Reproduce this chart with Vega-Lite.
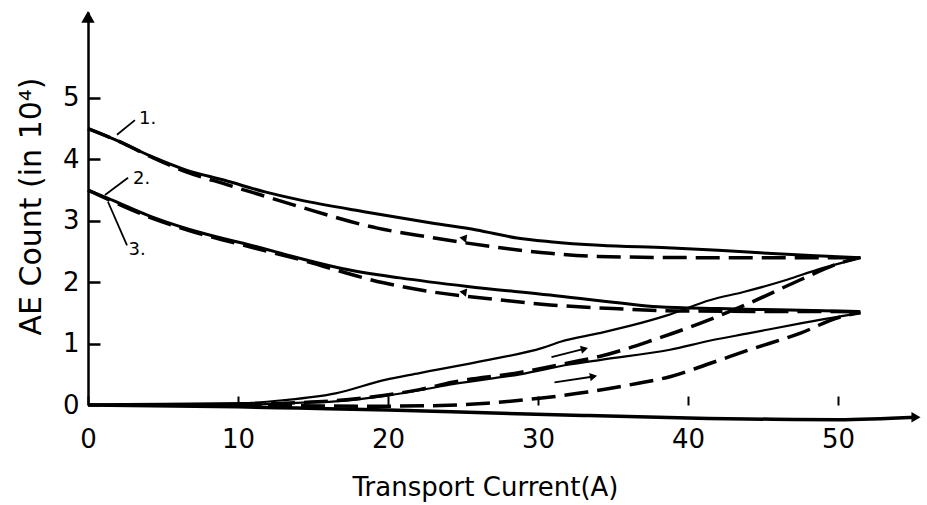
{
  "$schema": "https://vega.github.io/schema/vega-lite/v6.json",
  "width": 834,
  "height": 393,
  "autosize": "none",
  "padding": {"left": 88, "top": 12, "right": 5, "bottom": 100},
  "background": "white",
  "config": {"view": {"stroke": null}, "font": "DejaVu Sans"},
  "datasets": {
    "curves": [
      {"s": "s1d", "x": 0, "y": 4.5}, {"s": "s1d", "x": 1.8, "y": 4.32}, {"s": "s1d", "x": 4.3, "y": 4.04}, {"s": "s1d", "x": 6.5, "y": 3.83}, {"s": "s1d", "x": 9.1, "y": 3.66}, {"s": "s1d", "x": 11.8, "y": 3.47}, {"s": "s1d", "x": 14.1, "y": 3.34}, {"s": "s1d", "x": 18.6, "y": 3.14}, {"s": "s1d", "x": 23, "y": 2.96}, {"s": "s1d", "x": 25.9, "y": 2.85}, {"s": "s1d", "x": 28.6, "y": 2.72}, {"s": "s1d", "x": 30.8, "y": 2.66}, {"s": "s1d", "x": 34.1, "y": 2.6}, {"s": "s1d", "x": 38.6, "y": 2.56}, {"s": "s1d", "x": 42, "y": 2.52}, {"s": "s1d", "x": 45.3, "y": 2.47}, {"s": "s1d", "x": 48.5, "y": 2.43}, {"s": "s1d", "x": 51.5, "y": 2.4},
      {"s": "d1d", "x": 0, "y": 4.5}, {"s": "d1d", "x": 2, "y": 4.3}, {"s": "d1d", "x": 4.3, "y": 4.03}, {"s": "d1d", "x": 6.5, "y": 3.8}, {"s": "d1d", "x": 9.1, "y": 3.6}, {"s": "d1d", "x": 11.8, "y": 3.4}, {"s": "d1d", "x": 14.1, "y": 3.23}, {"s": "d1d", "x": 19.3, "y": 2.88}, {"s": "d1d", "x": 22.6, "y": 2.74}, {"s": "d1d", "x": 27.5, "y": 2.56}, {"s": "d1d", "x": 30.8, "y": 2.47}, {"s": "d1d", "x": 34, "y": 2.42}, {"s": "d1d", "x": 40, "y": 2.4}, {"s": "d1d", "x": 51.5, "y": 2.4},
      {"s": "s2d", "x": 0, "y": 3.5}, {"s": "s2d", "x": 1.3, "y": 3.37}, {"s": "s2d", "x": 4.3, "y": 3.06}, {"s": "s2d", "x": 7.6, "y": 2.8}, {"s": "s2d", "x": 10.9, "y": 2.6}, {"s": "s2d", "x": 14.1, "y": 2.39}, {"s": "s2d", "x": 17, "y": 2.22}, {"s": "s2d", "x": 20.8, "y": 2.07}, {"s": "s2d", "x": 25.3, "y": 1.93}, {"s": "s2d", "x": 30.8, "y": 1.79}, {"s": "s2d", "x": 35.5, "y": 1.66}, {"s": "s2d", "x": 38, "y": 1.6}, {"s": "s2d", "x": 42, "y": 1.57}, {"s": "s2d", "x": 46, "y": 1.55}, {"s": "s2d", "x": 51.5, "y": 1.52},
      {"s": "d2d", "x": 0, "y": 3.5}, {"s": "d2d", "x": 4.3, "y": 3.04}, {"s": "d2d", "x": 7.6, "y": 2.78}, {"s": "d2d", "x": 10.9, "y": 2.57}, {"s": "d2d", "x": 14.1, "y": 2.37}, {"s": "d2d", "x": 19.7, "y": 1.99}, {"s": "d2d", "x": 23, "y": 1.84}, {"s": "d2d", "x": 27.5, "y": 1.71}, {"s": "d2d", "x": 30.8, "y": 1.63}, {"s": "d2d", "x": 35, "y": 1.57}, {"s": "d2d", "x": 40, "y": 1.53}, {"s": "d2d", "x": 51.5, "y": 1.52},
      {"s": "s1u", "x": 0, "y": 0.01}, {"s": "s1u", "x": 5, "y": 0.02}, {"s": "s1u", "x": 10.3, "y": 0.03}, {"s": "s1u", "x": 13.1, "y": 0.08}, {"s": "s1u", "x": 16.5, "y": 0.19}, {"s": "s1u", "x": 19.8, "y": 0.41}, {"s": "s1u", "x": 22.1, "y": 0.52}, {"s": "s1u", "x": 26.6, "y": 0.73}, {"s": "s1u", "x": 30.3, "y": 0.93}, {"s": "s1u", "x": 31.5, "y": 1.03}, {"s": "s1u", "x": 34.1, "y": 1.17}, {"s": "s1u", "x": 36.3, "y": 1.3}, {"s": "s1u", "x": 38.6, "y": 1.46}, {"s": "s1u", "x": 41.5, "y": 1.71}, {"s": "s1u", "x": 43.7, "y": 1.84}, {"s": "s1u", "x": 46.6, "y": 2.04}, {"s": "s1u", "x": 48.6, "y": 2.2}, {"s": "s1u", "x": 51.5, "y": 2.4},
      {"s": "d1u", "x": 10, "y": 0}, {"s": "d1u", "x": 13.1, "y": 0.03}, {"s": "d1u", "x": 16.5, "y": 0.07}, {"s": "d1u", "x": 19.8, "y": 0.16}, {"s": "d1u", "x": 22.1, "y": 0.25}, {"s": "d1u", "x": 24.3, "y": 0.37}, {"s": "d1u", "x": 28.8, "y": 0.53}, {"s": "d1u", "x": 32.1, "y": 0.69}, {"s": "d1u", "x": 34.1, "y": 0.79}, {"s": "d1u", "x": 37.7, "y": 1.06}, {"s": "d1u", "x": 40.8, "y": 1.33}, {"s": "d1u", "x": 44.1, "y": 1.66}, {"s": "d1u", "x": 47.5, "y": 2.04}, {"s": "d1u", "x": 50.1, "y": 2.31}, {"s": "d1u", "x": 51.5, "y": 2.4},
      {"s": "s2u", "x": 0, "y": 0}, {"s": "s2u", "x": 10, "y": 0}, {"s": "s2u", "x": 13.1, "y": 0.03}, {"s": "s2u", "x": 16.5, "y": 0.06}, {"s": "s2u", "x": 19.8, "y": 0.15}, {"s": "s2u", "x": 22.1, "y": 0.24}, {"s": "s2u", "x": 24.3, "y": 0.34}, {"s": "s2u", "x": 28.8, "y": 0.5}, {"s": "s2u", "x": 32.1, "y": 0.66}, {"s": "s2u", "x": 34.3, "y": 0.74}, {"s": "s2u", "x": 38.8, "y": 0.9}, {"s": "s2u", "x": 41.5, "y": 1.05}, {"s": "s2u", "x": 44.1, "y": 1.17}, {"s": "s2u", "x": 47.5, "y": 1.33}, {"s": "s2u", "x": 51.5, "y": 1.5},
      {"s": "d2u", "x": 12, "y": 0}, {"s": "d2u", "x": 18, "y": -0.02}, {"s": "d2u", "x": 23.5, "y": -0.01}, {"s": "d2u", "x": 26.6, "y": 0.03}, {"s": "d2u", "x": 30.1, "y": 0.11}, {"s": "d2u", "x": 33.3, "y": 0.21}, {"s": "d2u", "x": 36.6, "y": 0.35}, {"s": "d2u", "x": 38.8, "y": 0.46}, {"s": "d2u", "x": 41.5, "y": 0.68}, {"s": "d2u", "x": 44.1, "y": 0.9}, {"s": "d2u", "x": 47.5, "y": 1.17}, {"s": "d2u", "x": 50.1, "y": 1.43}, {"s": "d2u", "x": 51.5, "y": 1.5},
      {"s": "base", "x": 0, "y": 0}, {"s": "base", "x": 10, "y": -0.03}, {"s": "base", "x": 14, "y": -0.05}, {"s": "base", "x": 20, "y": -0.08}, {"s": "base", "x": 27, "y": -0.13}, {"s": "base", "x": 33, "y": -0.17}, {"s": "base", "x": 40, "y": -0.21}, {"s": "base", "x": 50, "y": -0.24}, {"s": "base", "x": 55.2, "y": -0.2},
      {"s": "L1", "x": 1.93, "y": 4.4}, {"s": "L1", "x": 3.13, "y": 4.64},
      {"s": "L2", "x": 1.13, "y": 3.42}, {"s": "L2", "x": 2.67, "y": 3.7},
      {"s": "L3", "x": 1.33, "y": 3.31}, {"s": "L3", "x": 2.6, "y": 2.6},
      {"s": "a1", "x": 30.9, "y": 0.78}, {"s": "a1", "x": 33.0, "y": 0.91},
      {"s": "a2", "x": 31.1, "y": 0.37}, {"s": "a2", "x": 33.6, "y": 0.46}
    ],
    "labels": [
      {"x": 3.4, "y": 4.66, "t": "1."},
      {"x": 3.0, "y": 3.68, "t": "2."},
      {"x": 2.7, "y": 2.52, "t": "3."}
    ]
  },
  "layer": [
    {
      "data": {"name": "curves"},
      "transform": [{"filter": {"field": "s", "oneOf": ["s1d", "s2d"]}}],
      "mark": {"type": "line", "color": "black", "strokeWidth": 3, "interpolate": "monotone"},
      "encoding": {
        "x": {"field": "x", "type": "quantitative", "scale": {"domain": [0, 55.6], "nice": false},
          "axis": {"values": [0, 10, 20, 30, 40, 50], "format": "d", "domain": false, "grid": false, "tickColor": "black", "tickWidth": 2, "tickSize": -9, "labelPadding": 30, "labelFontSize": 26, "labelColor": "black", "labelFlush": false,
            "title": "Transport Current(A)", "titleFontSize": 26, "titleFontWeight": "normal", "titleColor": "black", "titleX": 397, "titleY": 90, "titleBaseline": "alphabetic", "titleAlign": "center"}},
        "y": {"field": "y", "type": "quantitative", "scale": {"domain": [0, 6.4], "nice": false},
          "axis": {"values": [0, 1, 2, 3, 4, 5], "format": "d", "domain": true, "domainColor": "black", "domainWidth": 2.5, "grid": false, "tickColor": "black", "tickWidth": 2.5, "tickSize": -12, "labelPadding": 21, "labelFontSize": 26, "labelColor": "black", "labelFlush": false,
            "title": "AE Count (in 10⁴)", "titleFontSize": 30, "titleFontWeight": "normal", "titleColor": "black", "titleX": -48, "titleY": 194, "titleBaseline": "alphabetic", "titleAlign": "center", "titleAngle": -90}},
        "detail": {"field": "s"}
      }
    },
    {
      "data": {"name": "curves"},
      "transform": [{"filter": {"field": "s", "oneOf": ["s1u", "s2u"]}}],
      "mark": {"type": "line", "color": "black", "strokeWidth": 2.2, "interpolate": "monotone"},
      "encoding": {"x": {"field": "x", "type": "quantitative"}, "y": {"field": "y", "type": "quantitative"}, "detail": {"field": "s"}}
    },
    {
      "data": {"name": "curves"},
      "transform": [{"filter": {"field": "s", "oneOf": ["d1d", "d2d", "d1u", "d2u"]}}],
      "mark": {"type": "line", "color": "black", "strokeWidth": 3.5, "strokeDash": [24, 9], "interpolate": "monotone"},
      "encoding": {"x": {"field": "x", "type": "quantitative"}, "y": {"field": "y", "type": "quantitative"}, "detail": {"field": "s"}}
    },
    {
      "data": {"name": "curves"},
      "transform": [{"filter": {"field": "s", "oneOf": ["base"]}}],
      "mark": {"type": "line", "color": "black", "strokeWidth": 3.5, "interpolate": "monotone"},
      "encoding": {"x": {"field": "x", "type": "quantitative"}, "y": {"field": "y", "type": "quantitative"}}
    },
    {
      "data": {"name": "curves"},
      "transform": [{"filter": {"field": "s", "oneOf": ["L1", "L2", "L3", "a1", "a2"]}}],
      "mark": {"type": "line", "color": "black", "strokeWidth": 1.8},
      "encoding": {"x": {"field": "x", "type": "quantitative"}, "y": {"field": "y", "type": "quantitative"}, "detail": {"field": "s"}}
    },
    {
      "data": {"values": [{"x": 0, "y": 6.32}]},
      "mark": {"type": "point", "shape": "triangle-up", "filled": true, "color": "black", "size": 180, "opacity": 1},
      "encoding": {"x": {"field": "x", "type": "quantitative"}, "y": {"field": "y", "type": "quantitative"}}
    },
    {
      "data": {"values": [{"x": 55.2, "y": -0.2}]},
      "mark": {"type": "point", "shape": "triangle-right", "filled": true, "color": "black", "size": 110, "opacity": 1},
      "encoding": {"x": {"field": "x", "type": "quantitative"}, "y": {"field": "y", "type": "quantitative"}}
    },
    {
      "data": {"values": [{"x": 33.1, "y": 0.915}]},
      "mark": {"type": "point", "shape": "triangle-right", "filled": true, "color": "black", "size": 70, "opacity": 1, "angle": -14},
      "encoding": {"x": {"field": "x", "type": "quantitative"}, "y": {"field": "y", "type": "quantitative"}}
    },
    {
      "data": {"values": [{"x": 33.7, "y": 0.465}]},
      "mark": {"type": "point", "shape": "triangle-right", "filled": true, "color": "black", "size": 70, "opacity": 1, "angle": -10},
      "encoding": {"x": {"field": "x", "type": "quantitative"}, "y": {"field": "y", "type": "quantitative"}}
    },
    {
      "data": {"values": [{"x": 25, "y": 2.72}, {"x": 25, "y": 1.84}]},
      "mark": {"type": "point", "shape": "triangle-left", "filled": true, "color": "black", "size": 70, "opacity": 1, "angle": 9},
      "encoding": {"x": {"field": "x", "type": "quantitative"}, "y": {"field": "y", "type": "quantitative"}}
    },
    {
      "data": {"name": "labels"},
      "mark": {"type": "text", "align": "left", "baseline": "middle", "fontSize": 18, "color": "black"},
      "encoding": {"x": {"field": "x", "type": "quantitative"}, "y": {"field": "y", "type": "quantitative"}, "text": {"field": "t"}}
    }
  ]
}
